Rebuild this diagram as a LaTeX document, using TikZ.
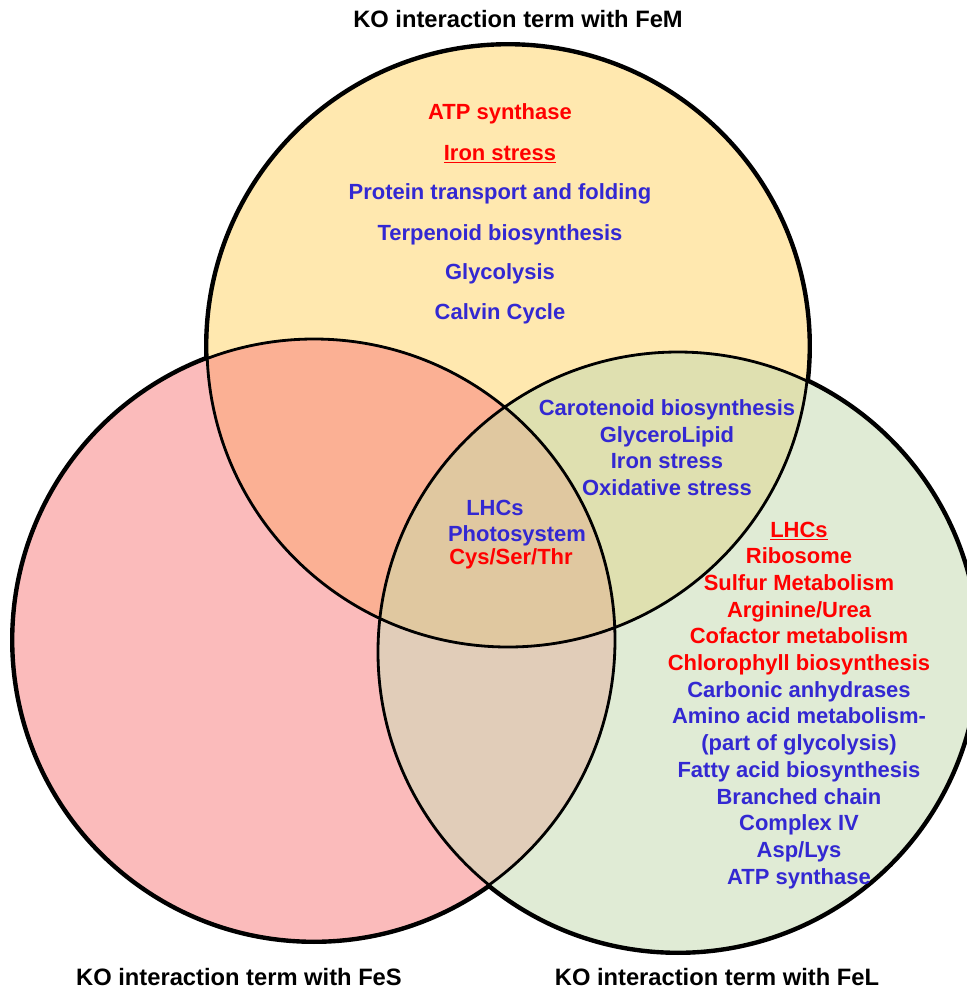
\documentclass[tikz,border=0pt]{standalone}
\usepackage{fontspec}
\setmainfont{Liberation Sans}
\definecolor{femfill}{RGB}{255,232,175}
\definecolor{fesfill}{RGB}{251,187,187}
\definecolor{felfill}{RGB}{224,235,213}
\definecolor{msfill}{RGB}{251,176,148}
\definecolor{mlfill}{RGB}{223,224,176}
\definecolor{slfill}{RGB}{225,205,185}
\definecolor{allfill}{RGB}{224,200,160}
\definecolor{koblue}{RGB}{51,40,210}
\definecolor{kored}{RGB}{255,0,0}
\begin{document}
\begin{tikzpicture}[x=0.02cm,y=0.02cm,
  title/.style={font=\bfseries\fontsize{13.5}{16}\selectfont,anchor=base},
  term/.style={font=\bfseries\fontsize{12.5}{15}\selectfont,anchor=base,inner sep=0pt}]
  \useasboundingbox (0,0) rectangle (967,-992);
  \def\femcirc{(508,-346) circle (301)}
  \def\fescirc{(314,-640) circle (301)}
  \def\felcirc{(678,-652) circle (300)}
  % outer rim, then fills, then inner rims
  \draw[line width=3.4pt] \femcirc \fescirc \felcirc;
  \fill[femfill] \femcirc;
  \fill[fesfill] \fescirc;
  \fill[felfill] \felcirc;
  \begin{scope}
    \clip \femcirc;
    \fill[msfill] \fescirc;
    \fill[mlfill] \felcirc;
  \end{scope}
  \begin{scope}
    \clip \fescirc;
    \fill[slfill] \felcirc;
    \clip \felcirc;
    \fill[allfill] \femcirc;
  \end{scope}
  \draw[line width=1.6pt] \femcirc \fescirc \felcirc;
  % set labels
  \node[title] (femtitle) at (518,-27) {KO interaction term with FeM};
  \node[title] (festitle) at (239,-985) {KO interaction term with FeS};
  \node[title] (feltitle) at (717,-985) {KO interaction term with FeL};
  % FeM only
  \foreach \txt/\yy/\col [count=\i] in {ATP synthase/112/kored,{\underline{Iron stress}}/153/kored,
      Protein transport and folding/192/koblue,Terpenoid biosynthesis/233/koblue,
      Glycolysis/272/koblue,Calvin Cycle/312/koblue}
    \node[term,text=\col] (fem\i) at (500,-\yy-7) {\txt};
  % FeM and FeL
  \foreach \txt/\yy [count=\i] in {Carotenoid biosynthesis/408,GlyceroLipid/435,
      Iron stress/461,Oxidative stress/488}
    \node[term,text=koblue] (ml\i) at (667,-\yy-7) {\txt};
  % all three
  \node[term,text=koblue] (all1) at (495,-515) {LHCs};
  \node[term,text=koblue] (all2) at (517,-541) {Photosystem};
  \node[term,text=kored] (all3) at (511,-564) {Cys/Ser/Thr};
  % FeL only
  \foreach \txt/\col [count=\i] in {{\underline{LHCs}}/kored,Ribosome/kored,Sulfur Metabolism/kored,
      {Arginine/Urea}/kored,Cofactor metabolism/kored,Chlorophyll biosynthesis/kored,
      Carbonic anhydrases/koblue,Amino acid metabolism-/koblue,(part of glycolysis)/koblue,
      Fatty acid biosynthesis/koblue,Branched chain/koblue,Complex IV/koblue,
      {Asp/Lys}/koblue,ATP synthase/koblue}
    \node[term,text=\col] (fel\i) at (799,{-530-7-(\i-1)*26.7}) {\txt};
\end{tikzpicture}
\end{document}
